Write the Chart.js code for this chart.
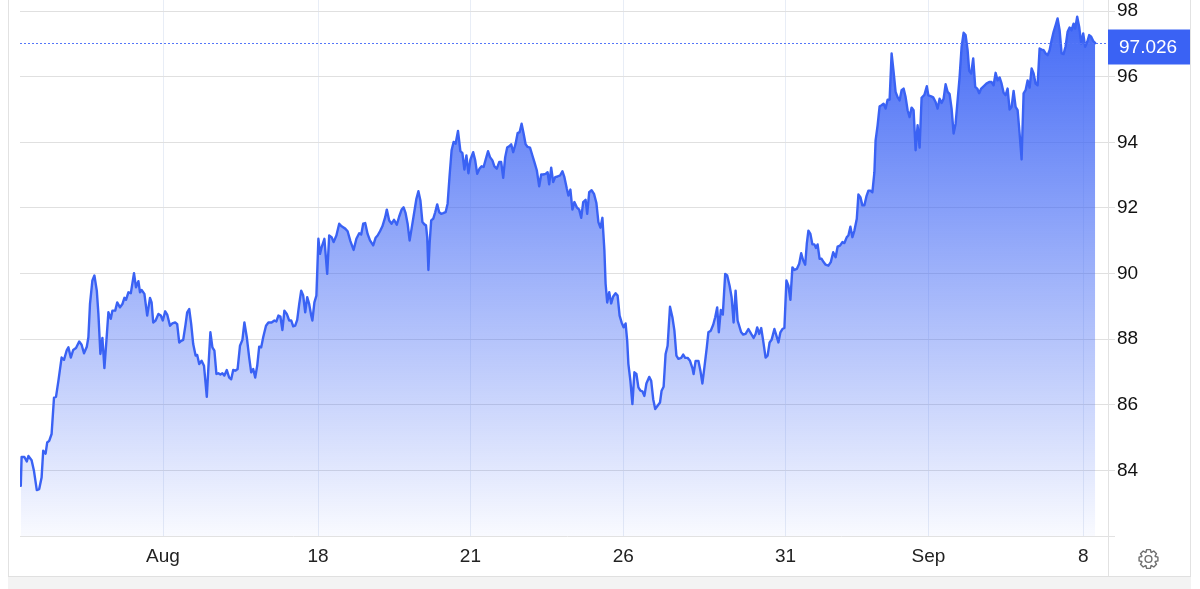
<!DOCTYPE html>
<html>
<head>
<meta charset="utf-8">
<script src="https://cdn.jsdelivr.net/npm/chart.js@4.4.1/dist/chart.umd.min.js"></script>
<style>
  html,body{margin:0;padding:0;background:#fff;}
  #wrap{position:relative;width:1200px;height:589px;overflow:hidden;}
  #box{position:absolute;left:0;top:0;width:1200px;height:576px;}
  #band{position:absolute;left:8px;top:576px;width:1183px;height:13px;background:#f3f3f3;border-top:1px solid #e0e0e0;box-sizing:border-box;}
</style>
</head>
<body>
<div id="wrap">
  <div id="box"><canvas id="price"></canvas></div>
  <div id="band"></div>
</div>
<script>
// price path as [session, value]
const startToAug=[[0.2,83.53],[0.4,84.41],[1.1,84.41],[1.7,84.27],[2.1,84.44],[2.9,84.31],[3.5,83.98],[4.2,83.40],[4.8,83.43],[5.4,83.78],[5.8,84.60],[6.4,84.51],[6.8,84.85],[7.3,84.90],[7.9,85.11],[8.5,86.22],[9,86.24],[9.6,86.73],[10.4,87.44],[11,87.37],[11.7,87.67],[12.1,87.75],[12.7,87.44],[13.3,87.67],[14,87.73],[14.8,87.93],[15.4,87.83],[16,87.57],[16.7,87.77],[17.1,88.06],[17.5,89.08],[18.1,89.79],[18.6,89.94],[19.2,89.48],[19.6,88.77],[20.1,87.55],[20.6,88.04],[21.1,87.12],[21.6,87.95],[22.1,88.82],[22.7,88.62],[23.1,88.87],[23.8,88.87],[24.3,89.12],[25,88.97],[25.6,89.07],[26.1,89.26],[26.5,89.20],[27.1,89.43],[27.7,89.40],[28.1,89.70],[28.5,90.01],[29,89.58],[29.6,89.77],[30,89.43],[30.4,89.50],[31.1,89.38],[31.8,88.72],[32.5,89.26],[32.9,89.12],[33.3,88.51],[33.9,88.57],[34.6,88.77],[35.2,88.72],[35.7,88.57],[36.3,88.85],[36.8,88.75],[37.5,88.41],[38.1,88.48],[38.8,88.51],[39.3,88.46],[39.8,87.90],[40.3,87.95],[40.8,87.98],[41.4,88.46],[41.8,88.82],[42.3,88.92],[42.8,88.46],[43.3,87.85],[43.9,87.50],[44.3,87.52],[44.8,87.24],[45.4,87.34],[46,87.19]];
const augTo18=[[46.7,86.24],[47.1,87.14],[47.6,88.21],[48.1,87.75],[48.6,87.65],[49.1,86.94],[49.6,86.96],[50.1,86.92],[50.6,86.96],[51.1,86.89],[51.7,87.06],[52.3,86.83],[52.8,86.78],[53.3,87.06],[53.9,87.04],[54.4,87.09],[55,87.80],[55.6,87.98],[56.1,88.51],[56.7,88.06],[57.3,87.44],[57.8,86.99],[58.3,87.09],[58.8,86.83],[59.3,87.19],[59.8,87.77],[60.3,87.75],[60.8,88.06],[61.5,88.41],[62.1,88.51],[62.9,88.51],[63.6,88.57],[64.1,88.54],[64.6,88.72],[65.1,88.69],[65.6,88.28],[66.1,88.87],[66.7,88.77],[67.3,88.57],[67.8,88.57],[68.3,88.39],[68.8,88.41],[69.3,88.59],[69.8,89.07],[70.3,89.48],[70.8,89.33],[71.3,88.82],[71.8,89.28],[72.3,89.07],[72.8,88.72],[73.1,88.57],[73.6,89.12],[74.1,89.33],[74.6,91.06],[75,90.60],[75.4,90.80],[76.1,91.06],[76.8,89.99],[77.3,91.16],[77.9,91.11],[78.4,90.96],[79.1,91.16],[79.8,91.52],[80.4,91.44],[81.3,91.37],[81.9,91.29],[82.6,90.99],[83.4,90.72],[84.1,91.06],[84.8,91.23],[85.3,91.19],[85.8,91.52],[86.3,91.54],[86.9,91.21],[87.5,91.01],[88.3,90.86],[88.9,91.09]];
const from18To26=[[89.4,91.16],[90,91.29],[90.6,91.44],[91.3,91.72],[91.7,91.95],[92.3,91.62],[92.9,91.52],[93.5,91.64],[94.2,91.49],[94.8,91.74],[95.4,91.95],[95.9,92.02],[96.4,91.84],[96.9,91.52],[97.4,91.01],[97.9,91.37],[98.6,91.90],[99.1,92.28],[99.6,92.51],[100.1,92.23],[100.6,91.57],[101.1,91.50],[101.5,91.47],[101.8,91.11],[102.1,90.11],[102.4,90.91],[102.8,91.62],[103.3,91.67],[103.8,91.87],[104.3,92.11],[104.8,91.87],[105.3,91.82],[105.8,91.84],[106.4,91.87],[106.9,92.13],[107.4,92.99],[107.9,93.76],[108.4,94.01],[108.9,93.96],[109.5,94.35],[110.1,93.73],[110.6,93.67],[111.1,93.17],[111.6,93.60],[112.1,93.06],[112.6,93.47],[113.3,93.70],[113.8,93.45],[114.3,93.04],[114.9,93.20],[115.4,93.27],[115.9,93.25],[116.4,93.47],[117,93.73],[117.5,93.55],[118.1,93.45],[118.6,93.27],[119.2,93.20],[119.8,93.40],[120.3,93.40],[120.8,92.92],[121.3,93.55],[121.8,93.84],[122.3,93.88],[122.8,93.94],[123.3,93.70],[123.9,93.96],[124.4,94.28],[124.9,94.31],[125.4,94.57],[125.9,94.27],[126.4,93.94],[126.9,93.86],[127.5,93.84],[128.1,93.60],[128.6,93.40],[129.2,93.15],[129.8,92.66],[130.3,93.02],[130.8,93.02],[131.4,93.04],[131.9,93.09],[132.3,92.72],[132.8,93.23],[133.3,92.79],[133.8,92.94],[134.4,92.96],[135,92.99]];
const from26To31=[[135.6,93.12],[136.1,92.94],[136.7,92.59],[137.1,92.38],[137.6,92.56],[138.1,91.95],[138.6,92.18],[139.2,92.02],[139.8,91.95],[140.3,91.70],[140.8,92.18],[141.4,92.25],[141.8,91.82],[142.3,92.48],[142.9,92.54],[143.5,92.43],[144.1,92.15],[144.6,91.57],[145.1,91.40],[145.6,91.70],[146.1,90.70],[146.4,89.69],[146.8,89.12],[147.3,89.43],[147.8,89.09],[148.3,89.30],[148.9,89.40],[149.4,89.33],[149.9,88.72],[150.4,88.51],[150.9,88.36],[151.4,88.48],[151.8,87.95],[152.1,87.24],[152.6,86.73],[153.1,86.02],[153.6,86.99],[154.1,86.94],[154.6,86.53],[155.1,86.43],[155.6,86.41],[156.1,86.27],[156.6,86.65],[157.3,86.85],[157.8,86.73],[158.3,86.17],[158.8,85.87],[159.4,85.97],[160,86.07],[160.4,86.43],[160.9,86.55],[161.4,87.55],[161.9,87.80],[162.5,88.99],[163.1,88.67],[163.6,88.26],[164.1,87.50],[164.6,87.40],[165.3,87.43],[165.8,87.53],[166.3,87.43],[166.9,87.43],[167.5,87.34],[168.1,87.12],[168.4,86.94],[168.9,87.34],[169.6,87.34],[170.1,87.04],[170.6,86.65],[171.1,87.14],[171.7,87.75],[172.1,88.21],[172.7,88.26],[173.3,88.44],[173.8,88.67],[174.3,88.97],[174.7,88.21],[175.2,88.89],[175.7,88.75],[176.3,89.99],[176.8,89.94],[177.4,89.63],[177.9,89.28],[178.4,88.51],[178.9,89.48],[179.4,88.57]];
const from31ToSep=[[180.3,88.21],[180.8,88.14],[181.4,88.16],[182.1,88.31],[182.8,88.16],[183.4,88.04],[183.9,88.16],[184.3,88.36],[184.8,88.16],[185.3,88.34],[185.8,87.95],[186.4,87.44],[186.9,87.50],[187.4,87.90],[187.9,87.98],[188.6,88.31],[189.1,88.11],[189.6,87.90],[190.1,88.21],[190.6,88.31],[191.1,88.34],[191.6,89.79],[192.1,89.63],[192.6,89.20],[193.1,90.19],[193.6,90.11],[194.2,90.14],[194.8,90.30],[195.3,90.62],[195.8,90.40],[196.3,90.27],[196.7,90.91],[197.1,91.31],[197.6,91.21],[198.1,90.89],[198.6,90.89],[199,90.78],[199.4,90.89],[199.9,90.45],[200.4,90.45],[200.9,90.35],[201.4,90.27],[202.1,90.24],[202.7,90.35],[203.3,90.65],[203.9,90.50],[204.4,90.82],[205,90.85],[205.6,90.96],[206.1,90.93],[206.7,91.11],[207.1,91.16],[207.6,91.43],[208.1,91.11],[208.6,91.31],[209.2,91.67],[209.6,92.41],[210.1,92.33],[210.6,92.08],[211.1,92.08],[211.6,92.35],[212.1,92.53],[212.6,92.53],[213.1,92.48],[213.6,93.09],[213.9,94.06],[214.4,94.52],[214.9,95.10],[215.4,95.13],[215.9,95.18],[216.4,95.03],[216.9,95.30],[217.4,95.30],[217.9,96.71],[218.4,96.15],[218.9,95.54],[219.4,95.38],[219.9,95.28],[220.4,95.59],[220.9,95.64],[221.4,95.38],[221.9,94.98],[222.4,94.77],[222.9,95.06],[223.4,94.98],[223.9,93.76],[224.4,94.52],[224.9,93.84]];
const sepToNow=[[225.4,95.36],[226.1,95.45],[226.7,95.71],[227.1,95.43],[227.8,95.40],[228.3,95.37],[228.9,95.23],[229.4,95.03],[229.9,95.33],[230.4,95.20],[230.9,95.33],[231.4,95.77],[231.9,95.54],[232.4,95.47],[232.9,95.03],[233.4,94.27],[233.9,94.57],[234.4,95.28],[234.9,95.99],[235.4,96.91],[235.9,97.34],[236.4,97.27],[236.9,96.81],[237.3,96.18],[237.8,96.10],[238.3,96.56],[238.8,95.69],[239.3,95.64],[239.8,95.50],[240.3,95.64],[240.9,95.71],[241.6,95.79],[242.3,95.84],[242.9,95.84],[243.4,95.74],[243.9,96.12],[244.4,95.89],[244.9,95.98],[245.4,95.79],[245.9,95.51],[246.4,95.44],[246.9,95.64],[247.4,95.00],[247.9,95.08],[248.4,95.57],[248.9,95.08],[249.4,94.98],[249.9,94.27],[250.4,93.48],[250.9,95.49],[251.4,95.59],[251.9,95.89],[252.4,95.67],[252.9,96.25],[253.4,96.10],[253.9,95.79],[254.4,95.74],[254.9,96.86],[255.4,96.83],[255.9,96.81],[256.4,96.71],[256.9,96.66],[257.4,96.81],[257.9,97.11],[258.4,97.37],[258.9,97.57],[259.4,97.78],[259.9,97.42],[260.4,96.71],[260.9,96.69],[261.4,96.93],[261.9,97.37],[262.4,97.50],[262.9,97.42],[263.4,97.62],[263.8,97.47],[264.3,97.83],[264.8,97.52],[265.3,97.01],[265.8,97.32],[266.3,96.91],[266.8,97.06],[267.3,97.27],[267.8,97.22],[268.3,97.09],[268.8,97.026]];

const xTickLabels=['Aug','18','21','26','31','Sep','8'];
const xTickPos=[35.75,74.5,112.6,150.8,191.4,227.1,265.8];
const yTickValues=[84,86,88,90,92,94,96,98];
const lastPrice=97.026;

const points=[].concat(startToAug,augTo18,from18To26,from26To31,from31ToSep,sepToNow).map(([x,y])=>({x,y}));
const FONT='"Liberation Sans", Arial, Helvetica, sans-serif';
const BLUE='#3a62f4';

function drawGear(c,cx,cy){
  c.beginPath();
  for(let k=0;k<8;k++){
    const a=k*Math.PI/4;
    [[7.2,a-0.36],[9.6,a-0.2],[9.6,a+0.2],[7.2,a+0.36]].forEach(([r,t],j)=>{
      const px=cx+r*Math.cos(t), py=cy+r*Math.sin(t);
      if(k===0&&j===0) c.moveTo(px,py); else c.lineTo(px,py);
    });
  }
  c.closePath(); c.stroke();
  c.beginPath(); c.arc(cx,cy,3.4,0,Math.PI*2); c.stroke();
}

const extras={
  id:'extras',
  afterDraw(chart){
    const c=chart.ctx, a=chart.chartArea, ys=chart.scales.y;
    const y=Math.round(ys.getPixelForValue(lastPrice))+0.5;
    c.save();
    // frame lines
    c.strokeStyle='#e2e2e2'; c.lineWidth=1;
    c.beginPath();
    c.moveTo(8.5,0); c.lineTo(8.5,576);
    c.moveTo(a.right+0.5,0); c.lineTo(a.right+0.5,576);
    c.moveTo(1190.5,0); c.lineTo(1190.5,576);
    c.moveTo(a.left,a.bottom+0.5); c.lineTo(a.right+7,a.bottom+0.5);
    c.stroke();
    // last price line
    c.strokeStyle='#5577f8'; c.setLineDash([2,2]);
    c.beginPath(); c.moveTo(a.left,y); c.lineTo(a.right,y); c.stroke();
    c.setLineDash([]);
    // price tag
    c.fillStyle=BLUE;
    c.fillRect(a.right,y-14,82,35);
    c.fillStyle='#fff'; c.font='19px '+FONT; c.textBaseline='middle'; c.textAlign='left';
    c.fillText(lastPrice.toFixed(3),a.right+11,y+4);
    // settings icon
    c.strokeStyle='#6f6f6f'; c.lineWidth=1.4; c.lineJoin='round';
    drawGear(c,1148.5,559);
    c.restore();
  }
};

const ctx=document.getElementById('price');
new Chart(ctx,{
  type:'line',
  data:{datasets:[{
    data:points,
    borderColor:BLUE,
    borderWidth:2.4,
    borderJoinStyle:'round',
    borderCapStyle:'round',
    pointRadius:0,
    tension:0,
    fill:'start',
    backgroundColor:(context)=>{
      const a=context.chart.chartArea;
      if(!a) return 'rgba(59,99,245,0.4)';
      const g=context.chart.ctx.createLinearGradient(0,a.top,0,a.bottom);
      g.addColorStop(0,'rgba(59,99,245,0.98)');
      g.addColorStop(1,'rgba(59,99,245,0.03)');
      return g;
    }
  }]},
  options:{
    responsive:true,
    maintainAspectRatio:false,
    animation:false,
    layout:{padding:{left:20,top:0,right:0,bottom:0}},
    plugins:{legend:{display:false},tooltip:{enabled:false}},
    scales:{
      x:{
        type:'linear',min:0,max:272,
        grid:{color:'#e8edf6',drawTicks:false},
        border:{display:false},
        afterBuildTicks:s=>{s.ticks=xTickPos.map(v=>({value:v}));},
        afterFit:s=>{s.height=40;s.paddingLeft=0;s.paddingRight=0;},
        ticks:{
          autoSkip:false,maxRotation:0,padding:9,color:'#222',
          font:{family:FONT,size:19},
          callback:v=>{const i=xTickPos.indexOf(v);return i<0?'':xTickLabels[i];}
        }
      },
      y:{
        position:'right',min:82,max:98.34,
        grid:{color:'#e0e0e0',tickLength:7},
        border:{display:false},
        afterBuildTicks:s=>{s.ticks=yTickValues.map(v=>({value:v}));},
        afterFit:s=>{s.width=92;s.paddingTop=0;s.paddingBottom=0;},
        ticks:{padding:2,color:'#111',font:{family:FONT,size:19}}
      }
    }
  },
  plugins:[extras]
});
</script>
</body>
</html>
